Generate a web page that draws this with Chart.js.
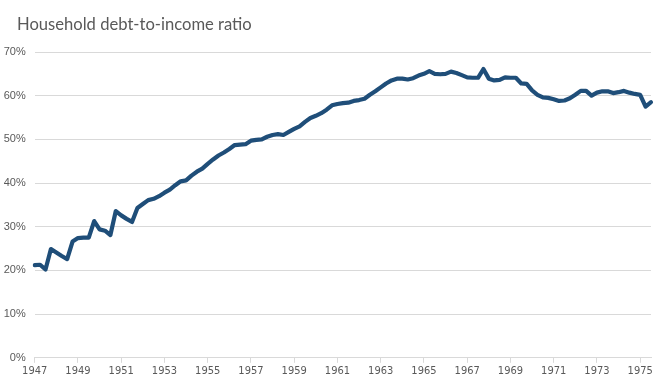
<!DOCTYPE html>
<html>
<head>
<meta charset="utf-8">
<script src="https://cdn.jsdelivr.net/npm/chart.js@4/dist/chart.umd.min.js"></script>
<style>
  html, body { margin: 0; padding: 0; background: #ffffff; }
  #wrap { position: relative; width: 659px; height: 382px; }
</style>
</head>
<body>
<div id="wrap"><canvas id="c" width="659" height="382"></canvas></div>
<script>
const chartTitle = "Household debt-to-income ratio";
const firstYear = 1947;
const lastYear = 1975;
const lastQuarter = 3;
const labelEveryYears = 2;

// Household debt-to-income ratio (%), quarterly 1947Q1 - 1975Q3
const ratio1947to1956 = [
  21.2, 21.3, 20.2, 24.9, 24.1, 23.3, 22.6, 26.6, 27.4, 27.5,
  27.5, 31.3, 29.4, 29.1, 28.1, 33.6, 32.6, 31.8, 31.1, 34.3,
  35.2, 36.1, 36.4, 37.0, 37.8, 38.5, 39.5, 40.4, 40.6, 41.7,
  42.6, 43.3, 44.4, 45.4, 46.3, 47.0, 47.8, 48.7, 48.8, 48.9
];
const ratio1957to1966 = [
  49.7, 49.9, 50.0, 50.6, 51.0, 51.2, 51.0, 51.7, 52.4, 53.0,
  54.0, 54.9, 55.4, 56.0, 56.8, 57.8, 58.1, 58.3, 58.4, 58.8,
  59.0, 59.3, 60.2, 61.0, 61.9, 62.8, 63.5, 63.9, 63.9, 63.7,
  64.0, 64.6, 65.0, 65.6, 65.0, 64.9, 65.0, 65.5, 65.2, 64.7
];
const ratio1967to1975 = [
  64.2, 64.1, 64.1, 66.1, 63.9, 63.5, 63.6, 64.2, 64.1, 64.1,
  62.8, 62.7, 61.2, 60.2, 59.6, 59.5, 59.2, 58.8, 58.9, 59.4,
  60.2, 61.1, 61.1, 60.0, 60.7, 61.0, 61.0, 60.6, 60.8, 61.1,
  60.7, 60.4, 60.2, 57.5, 58.5
];
const ratioValues = ratio1947to1956.concat(ratio1957to1966, ratio1967to1975);

const yTicksMin = 0, yTicksMax = 70, yTicksStep = 10;

// quarterly category labels
const quarterLabels = [];
for (let y = firstYear; y <= lastYear; y++) {
  for (let q = 1; q <= 4; q++) {
    if (y === lastYear && q > lastQuarter) break;
    quarterLabels.push(y + " Q" + q);
  }
}

const titlePlugin = {
  id: 'fixedTitle',
  afterDraw(chart) {
    const ctx = chart.ctx;
    ctx.save();
    ctx.font = '16.6px Lato, "Open Sans", sans-serif';
    ctx.fillStyle = '#595959';
    ctx.textBaseline = 'alphabetic';
    ctx.textAlign = 'left';
    ctx.fillText(chartTitle, 17, 30);
    ctx.restore();
  }
};

new Chart(document.getElementById('c'), {
  type: 'line',
  data: {
    labels: quarterLabels,
    datasets: [{
      label: chartTitle,
      data: ratioValues,
      borderColor: '#1f4e79',
      backgroundColor: '#1f4e79',
      borderWidth: 4.2,
      pointRadius: 0,
      tension: 0,
      borderJoinStyle: 'round',
      borderCapStyle: 'round',
      fill: false
    }]
  },
  options: {
    responsive: false,
    animation: false,
    devicePixelRatio: 1,
    layout: { autoPadding: false, padding: { top: 52, left: 3, right: 8, bottom: 2 } },
    plugins: {
      legend: { display: false },
      title: { display: false },
      tooltip: { enabled: false }
    },
    scales: {
      x: {
        type: 'category',
        offset: false,
        afterFit: function (scale) { scale.paddingLeft = 0; scale.paddingRight = 0; },
        border: { display: true, color: '#d9d9d9', width: 1 },
        grid: {
          display: true,
          drawOnChartArea: false,
          drawTicks: true,
          tickLength: 5,
          color: '#d9d9d9'
        },
        ticks: {
          autoSkip: false,
          maxRotation: 0,
          minRotation: 0,
          padding: 2,
          color: '#595959',
          font: { family: '"Liberation Sans Narrow", "Arial Narrow", "DejaVu Sans Condensed", sans-serif', size: 11 },
          callback: function (val, idx) {
            const lab = this.getLabelForValue(val);
            return idx % (4 * labelEveryYears) === 0 ? lab.slice(0, 4) : null;
          }
        }
      },
      y: {
        min: yTicksMin,
        max: yTicksMax,
        afterFit: function (scale) { scale.width = 31.7; scale.paddingTop = 0; scale.paddingBottom = 0; },
        border: { display: false },
        grid: { color: '#d9d9d9', drawTicks: false, lineWidth: 1 },
        ticks: {
          stepSize: yTicksStep,
          padding: 9,
          color: '#595959',
          font: { family: '"Liberation Sans", Arial, sans-serif', size: 11 },
          callback: v => v + '%'
        }
      }
    }
  },
  plugins: [titlePlugin]
});
</script>
</body>
</html>
